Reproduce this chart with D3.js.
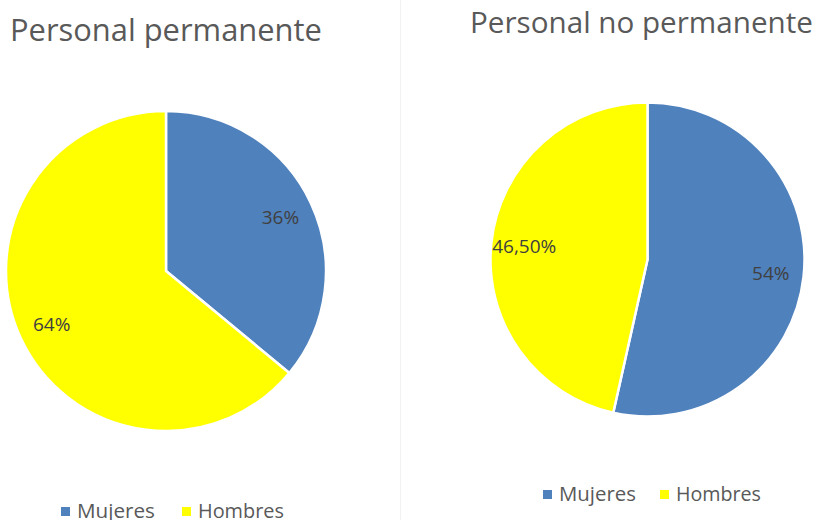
<!DOCTYPE html>
<html>
<head>
<meta charset="utf-8">
<script src="https://cdn.jsdelivr.net/npm/d3@7"></script>
<style>
  body { margin: 0; background: #fff; }
  svg { display: block; font-family: "Open Sans", "Noto Sans", sans-serif; }
</style>
</head>
<body>
<svg id="chart" width="826" height="520"></svg>
<script>
// datos
var categorias = ["Mujeres", "Hombres"];
var permanente = [36, 64];
var noPermanente = [53.5, 46.5];
var etiquetasPermanente = ["36%", "64%"];
var etiquetasNoPermanente = ["54%", "46,50%"];
var titulos = ["Personal permanente", "Personal no permanente"];

var colores = d3.scaleOrdinal().domain(categorias).range(["#4f81bd", "#ffff00"]);

var svg = d3.select("#chart");

// linea divisoria tenue
svg.append("line")
  .attr("x1", 400.5).attr("x2", 400.5)
  .attr("y1", 0).attr("y2", 520)
  .attr("stroke", "#f2f2f2");

// ajusta el tamaño de letra para que el texto ocupe el ancho dado
function ajustar(txt, ancho) {
  var w = txt.node().getComputedTextLength();
  var fs = parseFloat(txt.attr("font-size"));
  txt.attr("font-size", fs * ancho / w);
}

var paneles = [
  {titulo: titulos[0], valores: permanente, etiquetas: etiquetasPermanente,
   tx: 10, ty: 41, tw: 312, cx: 166, cy: 271, r: 160,
   lx: 61, ly: 518, lw1: 78, lx2: 182, lw2: 86},
  {titulo: titulos[1], valores: noPermanente, etiquetas: etiquetasNoPermanente,
   tx: 470, ty: 33, tw: 343, cx: 647.5, cy: 259.5, r: 157,
   lx: 543, ly: 501, lw1: 77, lx2: 660, lw2: 85}
];

var pie = d3.pie().sort(null).value(function(d){ return d; });

paneles.forEach(function(p){
  var t = svg.append("text")
    .attr("x", p.tx).attr("y", p.ty)
    .attr("font-size", 30)
    .attr("fill", "#595959")
    .text(p.titulo);
  ajustar(t, p.tw);

  var g = svg.append("g").attr("transform", "translate(" + p.cx + "," + p.cy + ")");
  var arc = d3.arc().innerRadius(0).outerRadius(p.r);
  var arcEtiqueta = d3.arc().innerRadius(p.r * 0.79).outerRadius(p.r * 0.79);
  var arcos = pie(p.valores);

  g.selectAll("path")
    .data(arcos)
    .enter()
    .append("path")
    .attr("d", arc)
    .attr("fill", function(d, i){ return colores(categorias[i]); })
    .attr("stroke", "#fff")
    .attr("stroke-width", 2.5)
    .attr("stroke-linejoin", "round");

  g.selectAll("text.etq")
    .data(arcos)
    .enter()
    .append("text")
    .attr("class", "etq")
    .attr("transform", function(d){ return "translate(" + arcEtiqueta.centroid(d) + ")"; })
    .attr("text-anchor", "middle")
    .attr("dy", "0.35em")
    .attr("font-size", 19)
    .attr("fill", "#404040")
    .text(function(d, i){ return p.etiquetas[i]; });

  // leyenda
  var xs = [p.lx, p.lx2];
  var ws = [p.lw1, p.lw2];
  categorias.forEach(function(c, i){
    svg.append("rect")
      .attr("x", xs[i]).attr("y", p.ly - 11)
      .attr("width", 9).attr("height", 9)
      .attr("fill", colores(c));
    var lt = svg.append("text")
      .attr("x", xs[i] + 16).attr("y", p.ly)
      .attr("font-size", 20)
      .attr("fill", "#595959")
      .text(c);
    ajustar(lt, ws[i]);
  });
});
</script>
</body>
</html>
